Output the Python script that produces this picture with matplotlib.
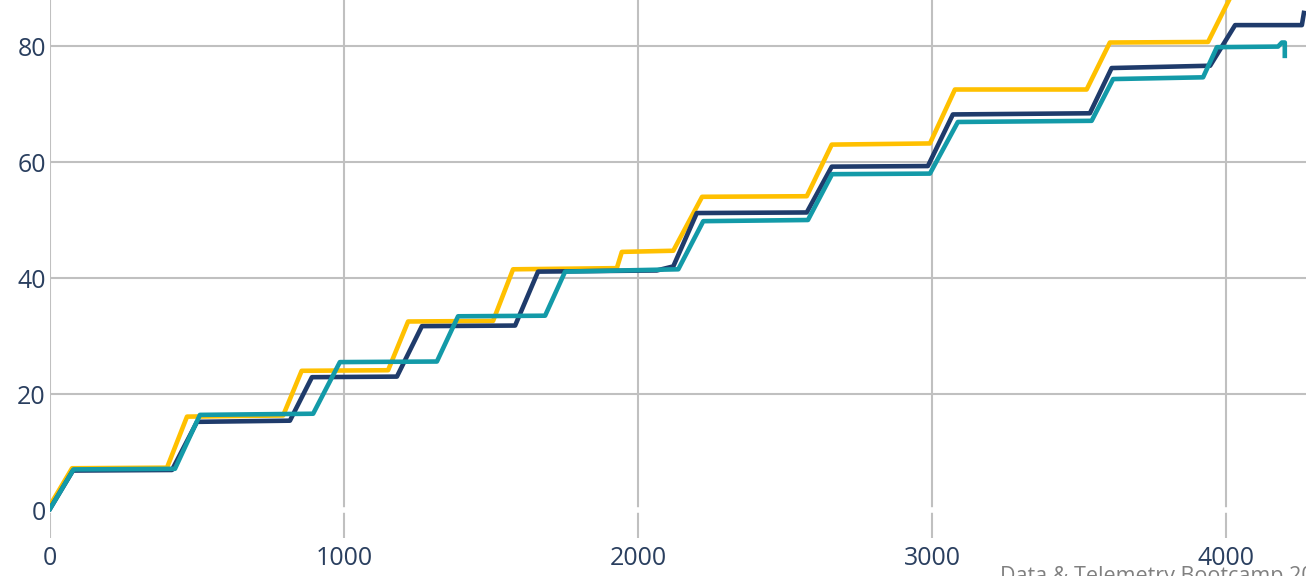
import matplotlib.pyplot as plt

# cumulative distance vs. elapsed time, three runs
yellow_t = [0, 75, 398, 466, 793, 856, 1150, 1218, 1507, 1575, 1928, 1945, 2120,
            2218, 2574, 2659, 2993, 3078, 3526, 3605, 3939, 4014, 4133]
yellow_d = [0.8, 7.2, 7.3, 16.1, 16.3, 24.0, 24.1, 32.5, 32.6, 41.5, 41.7, 44.5, 44.7,
            54.0, 54.1, 63.0, 63.2, 72.5, 72.5, 80.6, 80.7, 88.3, 88.4]

navy_t = [0, 78, 415, 500, 816, 891, 1180, 1265, 1582, 1660, 2064, 2120, 2200,
          2574, 2659, 2986, 3071, 3537, 3611, 3946, 4031, 4258, 4265]
navy_d = [0.2, 6.8, 6.9, 15.2, 15.4, 22.9, 23.0, 31.7, 31.8, 41.1, 41.3, 42.0, 51.2,
          51.3, 59.2, 59.3, 68.2, 68.4, 76.2, 76.6, 83.6, 83.6, 85.7]

teal_t = [0, 80, 425, 510, 895, 986, 1316, 1388, 1684, 1752, 2137, 2222, 2578,
          2660, 2993, 3088, 3543, 3616, 3922, 3969, 4177, 4190, 4200, 4200]
teal_d = [0.2, 7.0, 7.1, 16.4, 16.6, 25.5, 25.6, 33.4, 33.5, 41.1, 41.5, 49.8, 50.0,
          57.9, 58.0, 66.9, 67.1, 74.3, 74.6, 79.8, 79.9, 80.6, 80.6, 78.3]

x_ticks = [0, 1000, 2000, 3000, 4000]
y_ticks = [0, 20, 40, 60, 80]

W, H = 1306, 576
fig = plt.figure(figsize=(W / 100, H / 100), dpi=100)
ax = fig.add_axes([50 / W, (H - 538) / H, (W - 50) / W, 538 / H])

tick_color = '#2a3f5f'
grid_color = '#c0c0c0'

ax.set_xlim(0, (W - 50) / 0.294)
ax.set_ylim(-28 / 5.8, 510 / 5.8)

ax.set_xticks(x_ticks)
ax.set_yticks(y_ticks)
ax.grid(True, color=grid_color, linewidth=1.5, zorder=0)
# white zero line over the grid, like a plotly zeroline
ax.axhline(0, color='white', linewidth=4, zorder=2)

ax.plot(yellow_t, yellow_d, color='#ffc000', linewidth=3.3, zorder=3)
ax.plot(navy_t, navy_d, color='#1f3b6b', linewidth=3.3, zorder=4)
ax.plot(teal_t, teal_d, color='#139aa8', linewidth=3.3, zorder=5)

for s in ax.spines.values():
    s.set_visible(False)
ax.tick_params(length=0, labelsize=18, labelcolor=tick_color)
ax.tick_params(axis='y', pad=3)
ax.tick_params(axis='x', pad=6)
for lab in ax.get_xticklabels() + ax.get_yticklabels():
    lab.set_family('Open Sans')

fig.text(1000 / W, -0.011, 'Data & Telemetry Bootcamp 2025', color='#808080',
         fontsize=15.5, family='Open Sans', ha='left', va='baseline')

fig.savefig('out.png', dpi=100)
